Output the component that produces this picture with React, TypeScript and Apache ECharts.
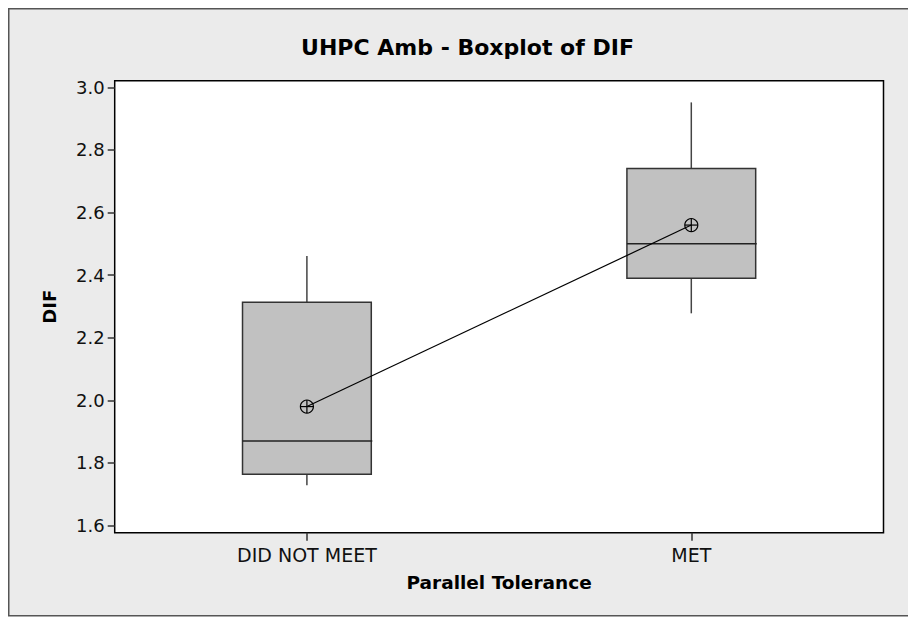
import React, { useEffect, useRef } from "react";
import * as echarts from "echarts";

// Groups on the category axis
const categories = ["DID NOT MEET", "MET"];

// Five-number summaries of DIF per group
const whiskerLow = [1.729, 2.278];
const quartile1 = [1.764, 2.39];
const median = [1.87, 2.5];
const quartile3 = [2.313, 2.741];
const whiskerHigh = [2.461, 2.952];

// Group means (connected by the mean line)
const means = [1.98, 2.56];

// Value axis range and tick values
const yMin = 1.577;
const yMax = 3.021;
const yTicks = [1.6, 1.8, 2.0, 2.2, 2.4, 2.6, 2.8, 3.0];

const FONT = "'DejaVu Sans', Verdana, sans-serif";

export default function App() {
  const ref = useRef<HTMLDivElement>(null);

  useEffect(() => {
    if (!ref.current) return;
    const chart = echarts.init(ref.current, undefined, { renderer: "svg" });

    const boxData = categories.map((_, i) => [
      i,
      whiskerLow[i],
      quartile1[i],
      median[i],
      quartile3[i],
      whiskerHigh[i],
    ]);

    const option: any = {
      animation: false,
      backgroundColor: "transparent",
      graphic: [
        {
          type: "rect",
          z: -10,
          silent: true,
          shape: { x: 0.75, y: 0.75, width: 1000, height: 607 },
          style: { fill: "#ebebeb", stroke: "#555555", lineWidth: 1.5 },
        },
        {
          type: "text",
          z: 10,
          x: 459.5,
          y: 39,
          style: {
            text: "UHPC Amb - Boxplot of DIF",
            fontFamily: FONT,
            fontWeight: "bold",
            fontSize: 22,
            fill: "#000",
            align: "center",
            verticalAlign: "middle",
          },
        },
      ],
      grid: {
        left: 106.7,
        top: 72.8,
        width: 768.8,
        height: 451.9,
        show: true,
        backgroundColor: "#ffffff",
        borderColor: "#000000",
        borderWidth: 1.5,
      },
      xAxis: {
        type: "category",
        data: categories,
        boundaryGap: true,
        name: "Parallel Tolerance",
        nameLocation: "middle",
        nameGap: 40,
        nameTextStyle: {
          fontFamily: FONT,
          fontWeight: "bold",
          fontSize: 18.5,
          color: "#000",
        },
        axisLine: { show: false },
        axisTick: {
          show: true,
          alignWithLabel: true,
          length: 8,
          lineStyle: { color: "#333", width: 1.5 },
        },
        axisLabel: {
          margin: 13,
          fontFamily: FONT,
          fontSize: 19,
          color: "#111",
        },
        splitLine: { show: false },
      },
      yAxis: {
        type: "value",
        min: yMin,
        max: yMax,
        name: "DIF",
        nameLocation: "middle",
        nameRotate: 90,
        nameGap: 56,
        nameTextStyle: {
          fontFamily: FONT,
          fontWeight: "bold",
          fontSize: 18,
          color: "#000",
        },
        axisLine: { show: false },
        axisTick: {
          show: true,
          length: 7,
          customValues: yTicks,
          lineStyle: { color: "#333", width: 1.5 },
        },
        axisLabel: {
          margin: 10,
          fontFamily: FONT,
          fontSize: 18,
          color: "#111",
          customValues: yTicks,
          formatter: (v: number) => v.toFixed(1),
        },
        splitLine: { show: false },
      },
      series: [
        {
          type: "custom",
          name: "DIF",
          data: boxData,
          encode: { x: 0, y: [1, 2, 3, 4, 5] },
          z: 2,
          renderItem: (params: any, api: any) => {
            const idx = api.value(0);
            const lo = api.coord([idx, api.value(1)]);
            const q1 = api.coord([idx, api.value(2)]);
            const med = api.coord([idx, api.value(3)]);
            const q3 = api.coord([idx, api.value(4)]);
            const hi = api.coord([idx, api.value(5)]);
            const halfW = (api.size([1, 0])[0] * 0.335) / 2;
            const cx = q1[0];
            const whiskerStyle = { stroke: "#444", lineWidth: 1.5 };
            return {
              type: "group",
              children: [
                {
                  type: "line",
                  shape: { x1: cx, y1: hi[1], x2: cx, y2: q3[1] },
                  style: whiskerStyle,
                },
                {
                  type: "line",
                  shape: { x1: cx, y1: q1[1], x2: cx, y2: lo[1] },
                  style: whiskerStyle,
                },
                {
                  type: "rect",
                  shape: {
                    x: cx - halfW,
                    y: q3[1],
                    width: halfW * 2,
                    height: q1[1] - q3[1],
                  },
                  style: { fill: "#c1c1c1", stroke: "#333", lineWidth: 1.5 },
                },
                {
                  type: "line",
                  shape: { x1: cx - halfW, y1: med[1], x2: cx + halfW + 1, y2: med[1] },
                  style: { stroke: "#222", lineWidth: 1.5 },
                },
              ],
            };
          },
        },
        {
          type: "line",
          name: "Mean",
          data: means,
          symbol: "none",
          z: 3,
          lineStyle: { color: "#000", width: 1.2 },
        },
        {
          type: "custom",
          name: "Mean symbol",
          data: means.map((m, i) => [i, m]),
          encode: { x: 0, y: 1 },
          z: 4,
          renderItem: (params: any, api: any) => {
            const p = api.coord([api.value(0), api.value(1)]);
            const r = 6.5;
            const st = { stroke: "#000", lineWidth: 1.2, fill: "none" };
            return {
              type: "group",
              children: [
                { type: "circle", shape: { cx: p[0], cy: p[1], r }, style: st },
                {
                  type: "line",
                  shape: { x1: p[0] - r, y1: p[1], x2: p[0] + r, y2: p[1] },
                  style: st,
                },
                {
                  type: "line",
                  shape: { x1: p[0], y1: p[1] - r, x2: p[0], y2: p[1] + r },
                  style: st,
                },
              ],
            };
          },
        },
      ],
    };

    chart.setOption(option);
    return () => chart.dispose();
  }, []);

  return <div ref={ref} style={{ width: 908, height: 610 }} />;
}
